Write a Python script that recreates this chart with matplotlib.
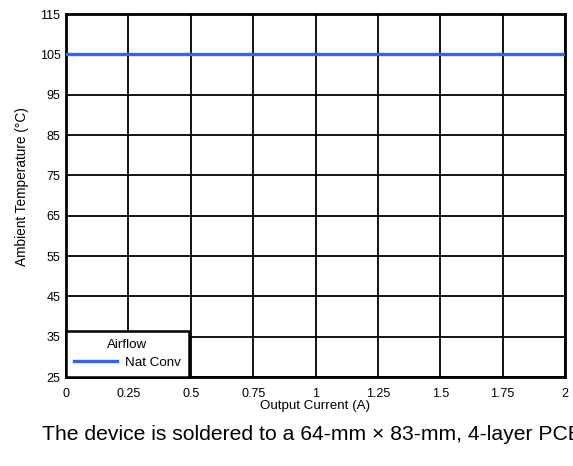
import matplotlib
matplotlib.use("Agg")
import matplotlib.pyplot as plt

plt.rcParams['font.family'] = ['Liberation Sans', 'DejaVu Sans']

current = [0, 0.25, 0.5, 0.75, 1, 1.25, 1.5, 1.75, 2]
nat_conv = [105, 105, 105, 105, 105, 105, 105, 105, 105]
xticks = [0, 0.25, 0.5, 0.75, 1, 1.25, 1.5, 1.75, 2]
xticklabels = ['0', '0.25', '0.5', '0.75', '1', '1.25', '1.5', '1.75', '2']
yticks = [25, 35, 45, 55, 65, 75, 85, 95, 105, 115]

fig = plt.figure(figsize=(5.73, 4.66), dpi=100)
ax = fig.add_axes([66/573, 1-377/466, (565-66)/573, (377-14)/466])

ax.plot(current, nat_conv, color='#3163f5', lw=2.4, label='Nat Conv', zorder=3)
ax.set_xlim(0, 2)
ax.set_ylim(25, 115)
ax.set_xticks(xticks)
ax.set_xticklabels(xticklabels)
ax.set_yticks(yticks)
ax.grid(True, color='black', lw=1.3)
for s in ax.spines.values():
    s.set_linewidth(2)
ax.tick_params(axis='x', length=0, labelsize=9, pad=8)
ax.tick_params(axis='y', length=0, labelsize=9, pad=4)
ax.set_xlabel('Output Current (A)', fontsize=9.6, labelpad=0)
ax.set_ylabel('Ambient Temperature (°C)', fontsize=9.8)
ax.yaxis.set_label_coords(-0.074, 0.525)

leg = ax.legend(title='Airflow', loc='lower left', fontsize=9.6, title_fontsize=9.6,
                fancybox=False, framealpha=1, edgecolor='black',
                borderaxespad=0, handlelength=3.2, handletextpad=0.6,
                borderpad=0.6, labelspacing=0.4)
leg.get_frame().set_linewidth(1.8)

fig.text(42/573, 1-435/466, 'The device is soldered to a 64-mm × 83-mm, 4-layer PCB.',
         fontsize=15.2, va='center', ha='left')

fig.savefig('out.png', dpi=100)
